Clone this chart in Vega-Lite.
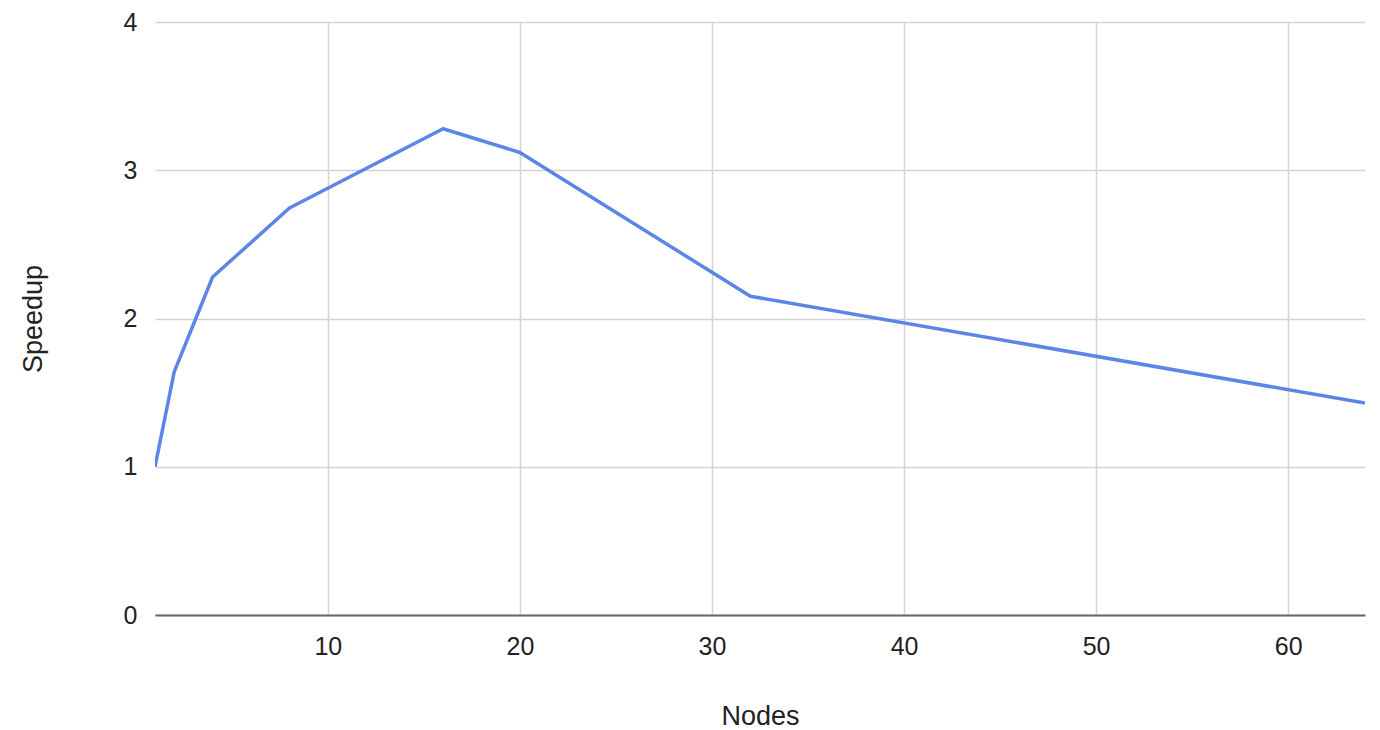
{
  "$schema": "https://vega.github.io/schema/vega-lite/v6.json",
  "autosize": "none",
  "width": 1210,
  "height": 593,
  "padding": {"left": 155, "top": 22, "right": 15, "bottom": 115},
  "background": "white",
  "config": {
    "font": "Liberation Sans",
    "view": {"stroke": null}
  },
  "data": {
    "values": [
      {"Nodes": 1, "Speedup": 1.0},
      {"Nodes": 2, "Speedup": 1.64},
      {"Nodes": 4, "Speedup": 2.28},
      {"Nodes": 8, "Speedup": 2.745},
      {"Nodes": 16, "Speedup": 3.28},
      {"Nodes": 20, "Speedup": 3.12},
      {"Nodes": 32, "Speedup": 2.15},
      {"Nodes": 64, "Speedup": 1.43}
    ]
  },
  "mark": {"type": "line", "color": "#5b86e5", "strokeWidth": 3.5, "strokeJoin": "round", "clip": true},
  "encoding": {
    "x": {
      "field": "Nodes", "type": "quantitative",
      "scale": {"domain": [1, 64], "nice": false, "zero": false},
      "axis": {
        "values": [10, 20, 30, 40, 50, 60],
        "title": "Nodes", "titleFontSize": 27, "titleFontWeight": "normal", "titleColor": "#222222", "titlePadding": 44,
        "labelFontSize": 25, "labelColor": "#222222", "labelPadding": 19,
        "domain": true, "domainColor": "#666666", "domainWidth": 2,
        "ticks": false,
        "grid": true, "gridColor": "#d4d4d4", "gridWidth": 1.5
      }
    },
    "y": {
      "field": "Speedup", "type": "quantitative",
      "scale": {"domain": [0, 4], "nice": false},
      "axis": {
        "values": [0, 1, 2, 3, 4],
        "title": "Speedup", "titleFontSize": 27, "titleFontWeight": "normal", "titleColor": "#222222", "titlePadding": 76,
        "labelFontSize": 25, "labelColor": "#222222", "labelPadding": 18,
        "domain": false, "ticks": false,
        "grid": true, "gridColor": "#d4d4d4", "gridWidth": 1.5
      }
    }
  }
}
